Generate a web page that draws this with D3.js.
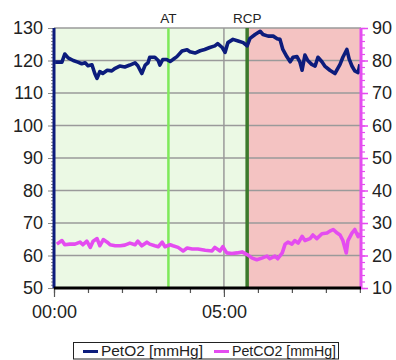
<!DOCTYPE html>
<html>
<head>
<meta charset="utf-8">
<script src="https://cdn.jsdelivr.net/npm/d3@7"></script>
<style>
  body { margin: 0; background: #fff; }
  svg { display: block; font-family: "Liberation Sans", Arial, sans-serif; }
</style>
</head>
<body>
<div id="chart"></div>
<script>
// time in seconds, PetO2 on left axis [mmHg]
var o2_t = [2, 14, 19, 25, 34, 42, 49, 55, 60, 67, 72, 76, 81, 86, 94, 102, 108, 116, 125, 134,
  143, 148, 155, 161, 166, 169, 178, 184, 187, 192, 199, 205, 210, 217, 226, 235, 240, 249, 258, 266,
  275, 284, 289, 297, 302, 307, 316, 325, 334, 341, 346, 355, 364, 369, 378, 387, 394, 399, 404, 411,
  417, 422, 429, 434, 438, 443, 448, 455, 461, 466, 473, 478, 487, 496, 505, 510, 517, 521, 526, 531, 537, 540]
var o2_v = [119.5, 119.5, 122, 120.8, 120, 119.5, 119, 119.3, 118.4, 118.7, 116, 114.5, 116.6, 116, 117, 116.8, 117.6, 118.3, 118, 118.6,
  119.3, 118.4, 116, 118.6, 119.3, 121, 121, 120, 118.6, 120.3, 120.3, 119.7, 120.3, 121.2, 122.9, 123.3, 122.7, 122.3, 123, 123.4,
  124, 124.5, 125.2, 124, 122.5, 125.5, 126.5, 126, 125.5, 124.5, 126.8, 128, 129, 128, 127.5, 127.5, 126.7, 126.5, 123.4, 121.2,
  119.6, 121, 121.2, 119.6, 117, 121.7, 120, 118.8, 118.3, 121, 119.6, 118.3, 117, 116, 118.8, 121, 123.4, 120.5, 118.3, 116.8, 116.3, 118.8]

// PetCO2 on right axis [mmHg]
var co2_t = [5, 14, 19, 28, 37, 46, 51, 58, 64, 69, 76, 81, 87, 94, 99, 108, 117, 125, 134, 143,
  148, 155, 164, 169, 178, 184, 191, 196, 205, 210, 219, 228, 235, 244, 254, 267, 279, 284, 293, 298,
  305, 314, 323, 332, 341, 350, 358, 367, 376, 381, 390, 395, 403, 408, 413, 420, 425, 431, 438, 443,
  452, 457, 464, 473, 482, 487, 493, 500, 505, 510, 516, 519, 526, 531, 537, 540]
var co2_v = [23.5, 24.6, 23.3, 23.5, 23.5, 24.1, 23.3, 24.4, 22.5, 24.4, 25.2, 23, 24.9, 24.1, 23.3, 23, 23, 23.2, 23.8, 23.3,
  24.4, 23, 24.1, 23.5, 23, 22.7, 24.1, 22.7, 23.3, 23, 22.5, 21.4, 22.3, 22, 22, 21.6, 21.4, 22.5, 21.4, 22.7,
  20.8, 20.6, 20.8, 21.1, 20.3, 19.2, 18.7, 19.2, 19.8, 19, 19.8, 19, 20.8, 23.5, 24.1, 23.5, 24.6, 23.8, 25.9, 24.6,
  25.2, 26.3, 25.2, 26.7, 26.9, 27.5, 28, 26.9, 26.3, 24.6, 20.8, 24.6, 26.9, 28, 25.8, 26.9]

var markers = [{name: "AT", t: 202}, {name: "RCP", t: 341}]
var t_end = 542
var left_ticks = [50, 60, 70, 80, 90, 100, 110, 120, 130]
var right_ticks = [10, 20, 30, 40, 50, 60, 70, 80, 90]
var x_major = [0, 300]
var x_labels = ["00:00", "05:00"]
var series_names = ["PetO2 [mmHg]", "PetCO2 [mmHg]"]

var canvas = {width: 396, height: 360}
var margin = {top: 28, right: 35, bottom: 72, left: 54}

var navy = "#0c1c7c"
var magenta = "#e44cf0"

var x = d3.scaleLinear().domain([0, t_end]).range([margin.left, canvas.width - margin.right])
var yL = d3.scaleLinear().domain([50, 130]).range([canvas.height - margin.bottom, margin.top])
var yR = d3.scaleLinear().domain([10, 90]).range([canvas.height - margin.bottom, margin.top])

var svg = d3.select("#chart").append("svg")
  .attr("width", canvas.width).attr("height", canvas.height)

var rcp = markers[1].t
// background zones
svg.append("rect")
  .attr("x", x(0)).attr("y", yL(130))
  .attr("width", x(rcp) - x(0)).attr("height", yL(50) - yL(130))
  .attr("fill", "#ebf9e4")
svg.append("rect")
  .attr("x", x(rcp)).attr("y", yL(130))
  .attr("width", x(t_end) - x(rcp)).attr("height", yL(50) - yL(130))
  .attr("fill", "#f4c3c2")

// grid
svg.append("g").selectAll("line").data(left_ticks).join("line")
  .attr("x1", x(0)).attr("x2", x(t_end))
  .attr("y1", d => yL(d)).attr("y2", d => yL(d))
  .attr("stroke", "#9a9a9a").attr("stroke-width", 1.5)
svg.append("line")
  .attr("x1", x(300)).attr("x2", x(300))
  .attr("y1", yL(130)).attr("y2", yL(50))
  .attr("stroke", "#9a9a9a").attr("stroke-width", 1.5)

// AT / RCP
svg.append("g").selectAll("line").data(markers).join("line")
  .attr("x1", d => x(d.t)).attr("x2", d => x(d.t))
  .attr("y1", yL(130)).attr("y2", yL(50))
  .attr("stroke", (d, i) => i == 0 ? "#7eea5a" : "#3c7a2c")
  .attr("stroke-width", (d, i) => i == 0 ? 2.5 : 3.5)
svg.append("g").selectAll("text").data(markers).join("text")
  .attr("x", d => x(d.t)).attr("y", 23)
  .attr("text-anchor", "middle")
  .attr("font-size", 13.5)
  .attr("fill", "#222")
  .text(d => d.name)

// lines
var lineO2 = d3.line().x(d => x(d[0])).y(d => yL(d[1]))
var lineCO2 = d3.line().x(d => x(d[0])).y(d => yR(d[1]))

svg.append("path")
  .attr("fill", "none").attr("stroke", magenta)
  .attr("stroke-width", 3.6).attr("stroke-linejoin", "round")
  .attr("d", lineCO2(d3.zip(co2_t, co2_v)))
svg.append("path")
  .attr("fill", "none").attr("stroke", navy)
  .attr("stroke-width", 3.6).attr("stroke-linejoin", "round")
  .attr("d", lineO2(d3.zip(o2_t, o2_v)))

// left axis
var gL = svg.append("g")
  .attr("transform", `translate(${margin.left},0)`)
  .call(d3.axisLeft(yL).tickValues(d3.range(50, 131, 1)).tickSize(3).tickFormat(""))
gL.call(g => g.selectAll(".tick line").attr("stroke", "#888"))
gL.select(".domain").remove()
svg.append("g")
  .attr("transform", `translate(${margin.left},0)`)
  .call(d3.axisLeft(yL).tickValues(left_ticks).tickSize(6).tickPadding(5))
  .call(g => g.select(".domain").remove())
  .call(g => g.selectAll(".tick line").attr("stroke", "#888"))
  .call(g => g.selectAll("text").attr("font-size", 18).attr("font-family", "Liberation Sans, Arial").attr("fill", "#222"))
svg.append("line")
  .attr("x1", margin.left).attr("x2", margin.left)
  .attr("y1", yL(130)).attr("y2", yL(50))
  .attr("stroke", navy).attr("stroke-width", 3)

// right axis
var xr = canvas.width - margin.right
svg.append("g")
  .attr("transform", `translate(${xr},0)`)
  .call(d3.axisRight(yR).tickValues(d3.range(10, 91, 2)).tickSize(4).tickFormat(""))
  .call(g => g.select(".domain").remove())
  .call(g => g.selectAll(".tick line").attr("stroke", magenta).attr("stroke-width", 1.2))
svg.append("g")
  .attr("transform", `translate(${xr},0)`)
  .call(d3.axisRight(yR).tickValues(right_ticks).tickSize(7).tickPadding(4))
  .call(g => g.select(".domain").remove())
  .call(g => g.selectAll(".tick line").attr("stroke", magenta).attr("stroke-width", 1.5))
  .call(g => g.selectAll("text").attr("font-size", 18).attr("font-family", "Liberation Sans, Arial").attr("fill", "#222"))
svg.append("line")
  .attr("x1", xr).attr("x2", xr)
  .attr("y1", yR(90)).attr("y2", yR(10))
  .attr("stroke", magenta).attr("stroke-width", 3)

// bottom axis
var yb = canvas.height - margin.bottom
svg.append("g")
  .attr("transform", `translate(0,${yb})`)
  .call(d3.axisBottom(x).tickValues(d3.range(0, t_end, 60)).tickSize(5).tickFormat(""))
  .call(g => g.select(".domain").remove())
  .call(g => g.selectAll(".tick line").attr("stroke", "#555").attr("stroke-width", 1.2))
svg.append("g")
  .attr("transform", `translate(0,${yb})`)
  .call(d3.axisBottom(x).tickValues(x_major).tickSize(9).tickPadding(8).tickFormat((d, i) => x_labels[i]))
  .call(g => g.select(".domain").remove())
  .call(g => g.selectAll(".tick line").attr("stroke", "#555").attr("stroke-width", 1.2))
  .call(g => g.selectAll("text").attr("font-size", 18).attr("font-family", "Liberation Sans, Arial").attr("fill", "#222"))
svg.append("line")
  .attr("x1", x(0)).attr("x2", x(t_end))
  .attr("y1", yb).attr("y2", yb)
  .attr("stroke", "#000").attr("stroke-width", 3)

// legend
var leg = svg.append("g")
leg.append("rect")
  .attr("x", 73.5).attr("y", 342.5).attr("width", 265).attr("height", 16.5)
  .attr("fill", "#fff").attr("stroke", "#222").attr("stroke-width", 1)
var legx = [83, 214]
var legw = [102, 104]
var legc = [navy, magenta]
series_names.forEach(function(n, i) {
  leg.append("line")
    .attr("x1", legx[i]).attr("x2", legx[i] + 15)
    .attr("y1", 351.5).attr("y2", 351.5)
    .attr("stroke", legc[i]).attr("stroke-width", 3)
  leg.append("text")
    .attr("x", legx[i] + 18).attr("y", 356)
    .attr("font-size", 14)
    .attr("fill", "#222")
    .attr("textLength", legw[i])
    .attr("lengthAdjust", "spacingAndGlyphs")
    .text(n)
})
</script>
</body>
</html>
